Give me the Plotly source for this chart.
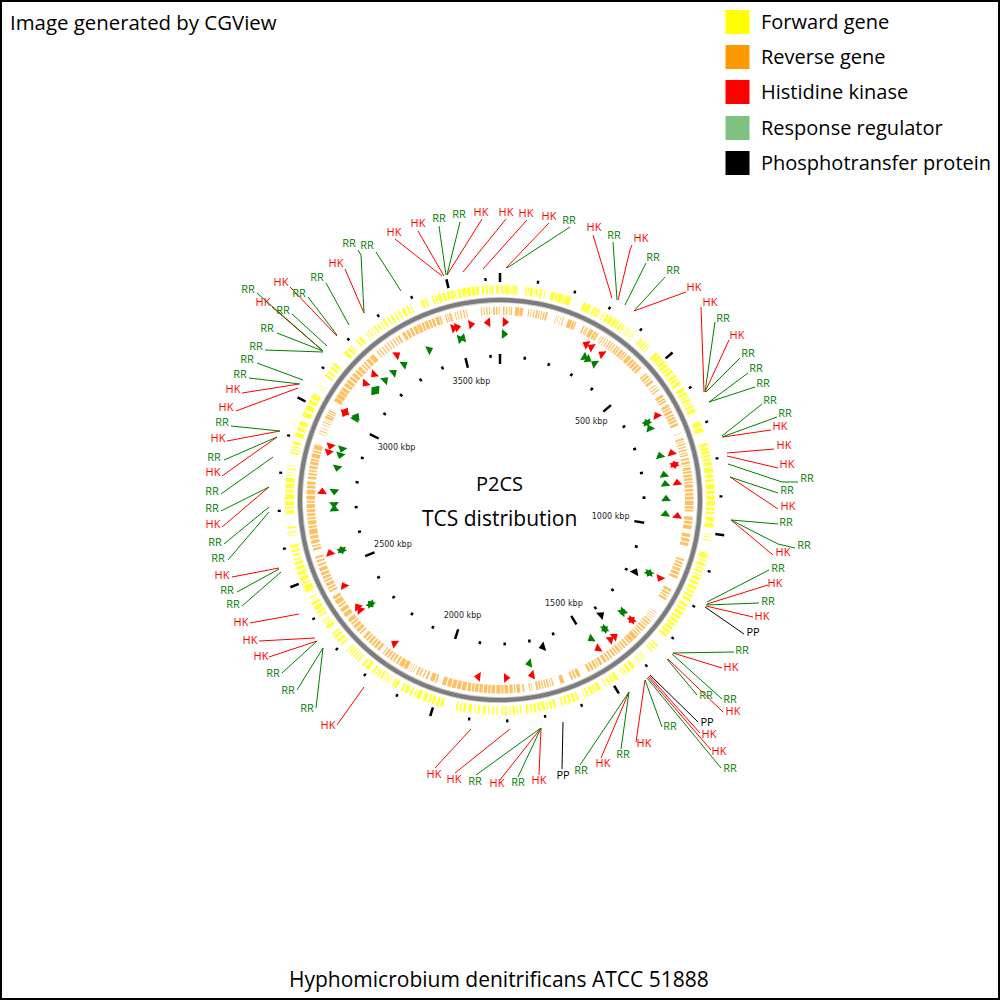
import plotly.graph_objects as go

GENOME_KBP = 3638

forward_genes = [
 (3,8),(10,14),(16,24),(26,31),(33,36),(38,47),(69,74),(77,80),(83,90),(93,96),(99,104),(108,115),(122,125),
 (140,150),(152,160),(162,172),(174,180),(182,197),(232,240),(242,255),(262,268),(270,276),(278,282),
 (293,297),(302,310),(313,322),(325,335),(338,342),(346,352),(355,360),(366,368),(372,375),(380,382),(388,390),(393,395),
 (415,420),(423,427),(430,434),(437,440),(444,447),(470,480),(482,490),(492,497),(500,508),(511,520),(523,530),(533,542),(548,558),(561,567),(570,580),
 (590,600),(604,612),(615,620),(624,632),(636,640),(643,650),(654,665),(692,706),(709,722),(753,762),(765,772),(775,783),(786,792),
 (796,802),(806,815),(820,835),(840,848),(852,860),(865,880),(884,893),(897,908),(912,925),(930,938),(942,948),(955,968),(972,985),
 (1003,1005),(1010,1012),(1018,1021),(1055,1070),(1074,1078),(1083,1092),(1096,1100),(1104,1110),
 (1116,1120),(1124,1132),(1137,1145),(1150,1160),(1164,1170),(1175,1182),(1186,1195),
 (1203,1212),(1216,1224),(1228,1238),(1242,1250),(1254,1262),(1266,1274),(1278,1286),(1290,1298),(1302,1310),
 (1340,1345),(1350,1355),(1360,1365),(1385,1387),(1392,1394),(1400,1402),(1406,1409),(1425,1435),(1440,1448),(1452,1456),(1460,1464),
 (1480,1490),(1494,1500),(1505,1510),(1516,1520),(1535,1545),(1549,1553),(1557,1566),(1572,1577),(1582,1585),
 (1600,1606),(1610,1618),(1622,1630),(1634,1640),(1645,1650),(1665,1672),(1676,1682),(1686,1690),(1695,1703),(1707,1715),(1720,1727),(1731,1736),(1741,1748),
 (1760,1764),(1769,1773),(1778,1785),(1790,1794),(1800,1806),(1810,1815),(1825,1829),(1836,1840),(1848,1852),(1858,1866),(1874,1880),(1887,1890),(1897,1906),(1912,1920),(1925,1930),(1935,1940),
 (1975,1983),(1987,1995),(2000,2008),(2012,2018),(2023,2033),(2040,2052),(2056,2060),(2066,2072),(2078,2088),(2092,2098),(2110,2118),(2120,2125),
 (2135,2138),(2143,2146),(2150,2153),(2158,2164),(2168,2172),(2176,2180),(2184,2190),(2200,2212),(2216,2222),
 (2235,2240),(2245,2248),(2252,2256),(2260,2264),(2268,2272),(2276,2280),(2298,2304),(2310,2318),(2322,2330),(2335,2340),(2356,2366),(2371,2374),(2378,2382),
 (2395,2400),(2404,2412),(2416,2428),(2432,2440),(2446,2448),(2452,2455),(2470,2490),(2494,2500),(2504,2515),(2520,2532),(2536,2545),(2549,2558),(2562,2567),
 (2575,2580),(2586,2592),(2597,2606),(2630,2632),(2638,2642),(2650,2655),(2690,2700),(2704,2710),(2714,2725),
 (2730,2745),(2749,2755),(2760,2772),(2776,2790),(2795,2797),(2803,2805),(2812,2815),(2822,2824),(2855,2860),(2864,2868),(2873,2877),(2882,2890),
 (2902,2915),(2920,2930),(2935,2948),(2960,2975),(2980,2995),(3000,3010),(3015,3030),(3048,3050),(3056,3058),(3085,3092),(3097,3103),(3110,3118),(3123,3130),
 (3165,3175),(3180,3187),(3191,3195),(3212,3218),(3222,3230),(3245,3248),(3254,3258),(3264,3267),(3273,3278),(3284,3288),(3294,3297),(3303,3310),(3316,3320),(3326,3333),(3339,3344),(3350,3355),(3362,3370),(3376,3382),(3386,3390),
 (3418,3426),(3430,3436),(3450,3455),(3458,3463),(3467,3477),(3480,3488),(3492,3500),(3503,3510),(3512,3516),
 (3522,3530),(3534,3545),(3547,3558),(3560,3570),(3572,3580),(3588,3594),(3598,3604),(3608,3612),(3614,3620),(3627,3634),
]

reverse_genes = [
 (9,14),(18,22),(27,30),(33,37),(46,58),(60,70),(86,89),(94,96),(102,105),(110,115),(118,121),(125,128),(132,136),(139,145),
 (171,173),(178,180),(186,188),(193,196),(210,222),(224,230),(232,236),(258,263),(267,270),(272,275),(280,292),(295,302),(304,310),
 (320,322),(326,329),(334,337),(342,345),(350,354),(358,362),(366,370),(375,380),(383,388),(392,400),(403,408),(411,415),
 (420,432),(436,444),(447,454),(457,465),(468,475),(495,500),(503,510),(514,518),(522,530),(540,543),(548,551),(556,560),(575,584),(587,592),(595,600),
 (610,618),(621,626),(630,638),(642,648),(651,658),(661,668),(672,680),(703,705),(720,726),(729,732),(736,741),(746,750),(755,760),(765,768),(771,775),
 (782,788),(792,800),(803,806),(810,818),(822,828),(832,840),(843,850),(853,858),(862,872),(876,884),(888,896),(899,908),(912,925),(928,936),(939,945),
 (960,970),(974,982),(986,998),(1012,1022),(1026,1036),(1040,1049),(1090,1096),(1100,1106),(1110,1116),(1120,1128),(1132,1140),(1144,1152),
 (1188,1196),(1200,1206),(1210,1214),(1218,1225),(1270,1272),(1278,1280),(1285,1287),(1292,1294),(1300,1304),(1308,1314),(1318,1322),(1326,1333),(1337,1342),(1346,1350),
 (1355,1360),(1363,1375),(1377,1388),(1390,1395),(1400,1406),(1410,1416),(1420,1424),(1428,1436),(1440,1445),(1449,1455),(1460,1466),(1470,1476),(1480,1489),
 (1495,1503),(1507,1511),(1515,1522),(1526,1533),(1537,1544),(1570,1580),(1584,1590),(1594,1600),(1622,1634),(1655,1659),(1663,1666),(1670,1675),(1679,1683),(1687,1691),(1695,1700),(1703,1709),
 (1721,1723),(1727,1730),(1745,1750),(1758,1768),(1772,1776),(1780,1790),(1794,1805),(1808,1815),(1818,1830),(1834,1845),(1848,1855),(1858,1868),(1872,1882),(1885,1895),(1898,1905),(1908,1918),(1922,1935),(1938,1950),(1953,1965),(1968,1980),(1984,1996),
 (2012,2018),(2021,2034),(2042,2048),(2054,2058),(2065,2070),(2074,2080),(2088,2090),(2095,2097),(2102,2104),(2110,2122),(2124,2138),(2142,2148),
 (2154,2160),(2164,2170),(2174,2180),(2184,2190),(2194,2198),(2210,2218),(2222,2230),(2234,2240),(2244,2252),(2256,2262),(2266,2274),
 (2285,2290),(2294,2304),(2308,2318),(2322,2328),(2332,2344),(2352,2366),(2370,2382),(2388,2394),(2398,2412),(2416,2425),
 (2440,2446),(2450,2456),(2460,2470),(2474,2480),(2484,2492),(2496,2505),(2509,2520),(2526,2532),(2538,2544),(2550,2556),
 (2575,2582),(2586,2590),(2596,2606),(2610,2620),(2624,2640),(2644,2650),(2654,2666),(2670,2676),(2680,2688),(2692,2700),(2704,2716),(2720,2726),
 (2730,2742),(2746,2760),(2764,2772),(2776,2785),(2792,2800),(2804,2810),(2815,2820),(2824,2832),(2836,2845),(2848,2854),(2858,2870),(2874,2880),(2884,2898),
 (2932,2934),(2940,2943),(2950,2952),(2960,2962),(2968,2971),(2976,2978),(2983,2990),(2992,2996),(3000,3003),(3006,3010),
 (3040,3052),(3054,3066),(3068,3078),(3080,3090),(3095,3105),(3108,3118),(3122,3130),(3134,3144),(3148,3156),(3160,3170),(3175,3180),(3184,3190),(3195,3205),(3209,3224),
 (3236,3240),(3246,3250),(3256,3260),(3266,3270),(3276,3280),(3286,3290),(3296,3300),(3306,3310),(3314,3320),(3330,3340),(3344,3352),(3356,3364),(3368,3378),(3380,3384),
 (3385,3392),(3395,3402),(3405,3415),(3418,3425),(3428,3436),(3440,3450),(3452,3457),(3470,3474),(3477,3480),(3483,3490),
 (3500,3503),(3508,3511),(3516,3520),(3526,3530),(3535,3538),(3580,3583),(3588,3591),(3596,3600),(3604,3607),(3617,3622),(3626,3630),(3634,3637),
]

# Two-component-system genes: position in kbp, split by strand
hk_forward = [3485,3497,3543,16,794,1172,1337,1714,2186,2342,2355,2437,2553,2755,3280,1890,1481,3030]
hk_reverse = [3599,293,312,353,624,755,794,854,962,1337,1415,1432,1799,2887,2908,3023,3142,3183]
rr_forward = [14,309,323,629,1173,1335,1424,1482,1716,2336,2551,2697,3025,3033,3153,3195,3235,3281,3383,3497]
rr_reverse = [351,629,652,754,822,854,906,959,1173,1340,1424,2336,2551,2714,2759,2842,2888,2910,3139,3508]
pp_forward = [1655]
pp_reverse = [1193,1402]

major_ticks = [0,500,1000,1500,2000,2500,3000,3500]
minor_ticks = [100,200,300,400,600,700,800,900,1100,1200,1300,1400,1600,1700,1800,1900,
               2100,2200,2300,2400,2600,2700,2800,2900,3100,3200,3300,3400,3600]
tick_labels = ["500 kbp","1000 kbp","1500 kbp","2000 kbp","2500 kbp","3000 kbp","3500 kbp"]
tick_label_kbp = [500,1000,1500,2000,2500,3000,3500]
tick_label_r = [120,112,122,122,116,116,121]

legend_names = ["Forward gene","Reverse gene","Histidine kinase","Response regulator","Phosphotransfer protein"]
legend_colors = ["#ffff00","#ff9900","#ff0000","#80c080","#000000"]
legend_y = [22,57,92,128,163]

# kind, label centre x, y, then the leader path
callouts = [
 ("HK",394,233,[(395,239),(442,276)]),("HK",418,224,[(418,231),(444,276)]),("RR",439,219,[(439,226),(446,275)]),
 ("RR",459,215,[(460,222),(447,275)]),("HK",481,213,[(482,219),(447,275)]),("HK",506,213,[(506,219),(463,272)]),
 ("HK",526,214,[(527,220),(483,269)]),("HK",549,217,[(549,223),(506,268)]),("RR",569,221,[(570,227),(507,268)]),
 ("HK",594,228,[(593,235),(612,298)]),("RR",614,236,[(613,242),(617,300)]),("HK",641,239,[(632,245),(630,250),(618,300)]),
 ("RR",653,258,[(646,263),(625,305)]),("RR",673,271,[(665,277),(634,311)]),("HK",694,288,[(686,292),(634,311)]),
 ("HK",710,303,[(701,307),(704,392)]),("RR",723,319,[(715,322),(705,392)]),("HK",737,336,[(729,340),(705,392)]),
 ("RR",748,354,[(740,358),(706,392)]),("RR",756,369,[(748,373),(709,402)]),("RR",763,384,[(755,387),(709,402)]),
 ("RR",770,401,[(762,404),(722,436)]),("RR",785,414,[(777,417),(722,437)]),("HK",780,427,[(771,430),(723,437)]),
 ("HK",784,446,[(774,449),(727,453)]),("HK",787,465,[(778,468),(727,456)]),("RR",807,479,[(798,482),(782,482),(728,464)]),
 ("RR",787,491,[(778,493),(730,477)]),("HK",788,507,[(778,509),(730,477)]),("RR",786,523,[(778,524),(731,520)]),
 ("RR",804,546,[(795,548),(778,544),(731,520)]),("HK",783,553,[(773,555),(731,520)]),("RR",778,569,[(769,570),(707,602)]),
 ("HK",775,584,[(768,585),(707,604)]),("RR",768,602,[(759,603),(706,605)]),("HK",762,617,[(753,617),(706,606)]),
 ("PP",753,633,[(744,634),(705,607)]),("RR",742,651,[(734,652),(673,653)]),("HK",731,668,[(722,668),(673,653)]),
 ("RR",730,700,[(722,699),(672,654)]),("HK",733,712,[(723,712),(668,659)]),("RR",706,696,[(697,695),(667,659)]),
 ("PP",707,723,[(698,722),(688,712),(650,675)]),("HK",709,735,[(700,733),(649,676)]),("HK",719,752,[(711,750),(648,677)]),
 ("RR",730,769,[(721,768),(647,678)]),("RR",670,727,[(662,727),(645,680)]),("HK",644,744,[(636,742),(645,680)]),
 ("RR",623,755,[(621,749),(629,692)]),("HK",603,764,[(601,758),(629,692)]),("RR",581,771,[(580,765),(629,692)]),
 ("PP",563,776,[(562,769),(563,722)]),("HK",539,781,[(539,775),(541,728)]),("RR",518,783,[(518,777),(541,728)]),
 ("HK",497,784,[(500,780),(541,728)]),("RR",475,782,[(476,775),(541,728)]),("HK",454,780,[(455,773),(510,729)]),
 ("HK",434,775,[(435,768),(471,729)]),("HK",328,726,[(337,725),(364,687)]),("RR",307,709,[(316,708),(323,648)]),
 ("RR",288,691,[(297,690),(323,648)]),("RR",273,674,[(282,673),(317,641)]),("HK",261,657,[(269,657),(317,641)]),
 ("HK",250,641,[(259,641),(315,638)]),("HK",241,623,[(250,623),(299,614)]),("RR",233,605,[(242,606),(281,572)]),
 ("RR",227,591,[(237,592),(279,569)]),("HK",222,576,[(232,577),(279,568)]),("RR",218,559,[(228,560),(269,512)]),
 ("RR",215,543,[(224,544),(269,507)]),("HK",213,525,[(222,527),(269,487)]),("RR",212,509,[(221,511),(269,487)]),
 ("RR",212,492,[(221,494),(273,457)]),("HK",213,473,[(222,476),(277,437)]),("RR",214,458,[(224,460),(277,437)]),
 ("HK",218,439,[(227,441),(280,431)]),("RR",222,423,[(231,426),(280,431)]),("HK",226,408,[(236,411),(298,388)]),
 ("HK",233,390,[(242,393),(299,384)]),("RR",240,375,[(249,378),(300,384)]),("RR",247,360,[(257,363),(303,380)]),
 ("RR",256,347,[(265,350),(323,352)]),("RR",267,329,[(277,333),(323,351)]),("RR",283,311,[(292,314),(327,346)]),
 ("HK",263,303,[(272,307),(323,351)]),("RR",248,290,[(257,293),(323,351)]),("RR",299,294,[(308,297),(337,335)]),
 ("HK",281,283,[(290,287),(337,336)]),("RR",317,278,[(326,283),(349,325)]),("HK",336,264,[(345,269),(364,313)]),
 ("RR",349,244,[(358,250),(361,255),(364,313)]),("RR",367,246,[(376,252),(401,291)]),
]

KIND_COLOR = {"HK": "#ff0000", "RR": "#008000", "PP": "#000000"}
FONT = "Open Sans"


def deg(kbp):
    return kbp * 360.0 / GENOME_KBP


def ring(genes, r0, r1, color, opacity, name):
    return go.Barpolar(
        theta=[deg((s + e) / 2) for s, e in genes],
        width=[deg(e - s) for s, e in genes],
        base=[r0] * len(genes), r=[r1 - r0] * len(genes),
        marker=dict(color=color, opacity=opacity, line=dict(width=0)), name=name, hoverinfo="skip", showlegend=False)


def solid(theta, w, r0, r1, color):
    return go.Barpolar(theta=theta, width=[w] * len(theta), base=[r0] * len(theta), r=[r1 - r0] * len(theta),
                       marker=dict(color=color, line=dict(width=0)), hoverinfo="skip", showlegend=False)


def arrows(kbps, r, symbol, color, name):
    t = [deg(k) for k in kbps]
    return go.Scatterpolar(theta=t, r=[r] * len(t), mode="markers", name=name, showlegend=False, hoverinfo="skip",
                           marker=dict(symbol=symbol, size=8.5, color=color, angle=t, line=dict(width=0)))


fig = go.Figure()
fig.add_trace(ring(forward_genes, 206, 215, "#ffff00", 0.75, "Forward gene"))
fig.add_trace(ring(reverse_genes, 185, 193.5, "#ff9900", 0.62, "Reverse gene"))
fig.add_trace(solid([180], 360, 197, 203, "#c4c4c4"))
fig.add_trace(solid([180], 360, 198, 202, "#7c7c7c"))
fig.add_trace(solid([deg(k) for k in major_ticks], 0.65, 218, 227, "#000000"))
fig.add_trace(solid([deg(k) for k in minor_ticks], 0.6, 219.5, 222.5, "#000000"))
fig.add_trace(solid([deg(k) for k in major_ticks], 1.0, 136, 146, "#000000"))
fig.add_trace(solid([deg(k) for k in minor_ticks], 1.0, 142.5, 145.5, "#000000"))
fig.add_trace(arrows(hk_forward, 178, "triangle-right", "#ff0000", "HK +"))
fig.add_trace(arrows(hk_reverse, 178, "triangle-left", "#ff0000", "HK -"))
fig.add_trace(arrows(rr_forward, 166, "triangle-right", "#008000", "RR +"))
fig.add_trace(arrows(rr_reverse, 166, "triangle-left", "#008000", "RR -"))
fig.add_trace(arrows(pp_forward, 153, "triangle-right", "#000000", "PP +"))
fig.add_trace(arrows(pp_reverse, 153, "triangle-left", "#000000", "PP -"))
fig.add_trace(go.Scatterpolar(theta=[deg(k) for k in tick_label_kbp], r=tick_label_r, mode="text", text=tick_labels,
                              textfont=dict(family="DejaVu Sans", size=8, color="#222222"),
                              textposition="middle center", showlegend=False, hoverinfo="skip"))

# leader lines and labels
for kind, color in KIND_COLOR.items():
    xs, ys = [], []
    for k, lx, ly, path in callouts:
        if k == kind:
            xs += [p[0] for p in path] + [None]
            ys += [p[1] for p in path] + [None]
    fig.add_trace(go.Scatter(x=xs, y=ys, mode="lines", line=dict(color=color, width=1), showlegend=False,
                             hoverinfo="skip", name=kind))
    sel = [c for c in callouts if c[0] == kind]
    fig.add_trace(go.Scatter(x=[c[1] for c in sel], y=[c[2] for c in sel], text=[c[0] for c in sel], mode="text",
                             textposition="middle center", textfont=dict(family=FONT, size=11, color=color),
                             showlegend=False, hoverinfo="skip", name=kind + " labels"))

# legend
fig.add_trace(go.Scatter(x=[737.5] * 5, y=legend_y, mode="markers", marker=dict(symbol="square", size=24, color=legend_colors),
                         showlegend=False, hoverinfo="skip"))
fig.add_trace(go.Scatter(x=[761] * 5, y=[v + 2 for v in legend_y], mode="text", text=legend_names, textposition="middle right",
                         textfont=dict(family=FONT, size=20, color="#000000"), showlegend=False, hoverinfo="skip"))


def note(text, x, y, anchor="center", size=19):
    return dict(text=text, x=x, y=y, xref="x", yref="y", showarrow=False, xanchor=anchor, yanchor="middle",
                font=dict(family=FONT, size=size, color="#000000"))


fig.update_layout(
    width=1000, height=1000, margin=dict(l=0, r=0, t=0, b=0), paper_bgcolor="white", plot_bgcolor="white",
    showlegend=False,
    xaxis=dict(range=[0, 1000], visible=False, domain=[0, 1], fixedrange=True),
    yaxis=dict(range=[1000, 0], visible=False, domain=[0, 1], fixedrange=True),
    polar=dict(domain=dict(x=[0, 1], y=[0, 1]), bgcolor="rgba(0,0,0,0)", barmode="overlay",
               radialaxis=dict(range=[0, 500], visible=False),
               angularaxis=dict(visible=False, rotation=90, direction="clockwise")),
    annotations=[
        note("Image generated by CGView", 8, 22, "left", 20.4),
        note("P2CS", 499, 483, size=20),
        note("TCS distribution", 499, 518, size=21),
        note("Hyphomicrobium denitrificans ATCC 51888", 499, 979, size=21),
    ],
    shapes=[dict(type="rect", xref="x", yref="y", x0=1, y0=1, x1=999, y1=999, line=dict(color="#000000", width=2), layer="above")],
)

fig.write_html("out.html", config={"displayModeBar": False}, post_script="document.body.style.margin='0';")
